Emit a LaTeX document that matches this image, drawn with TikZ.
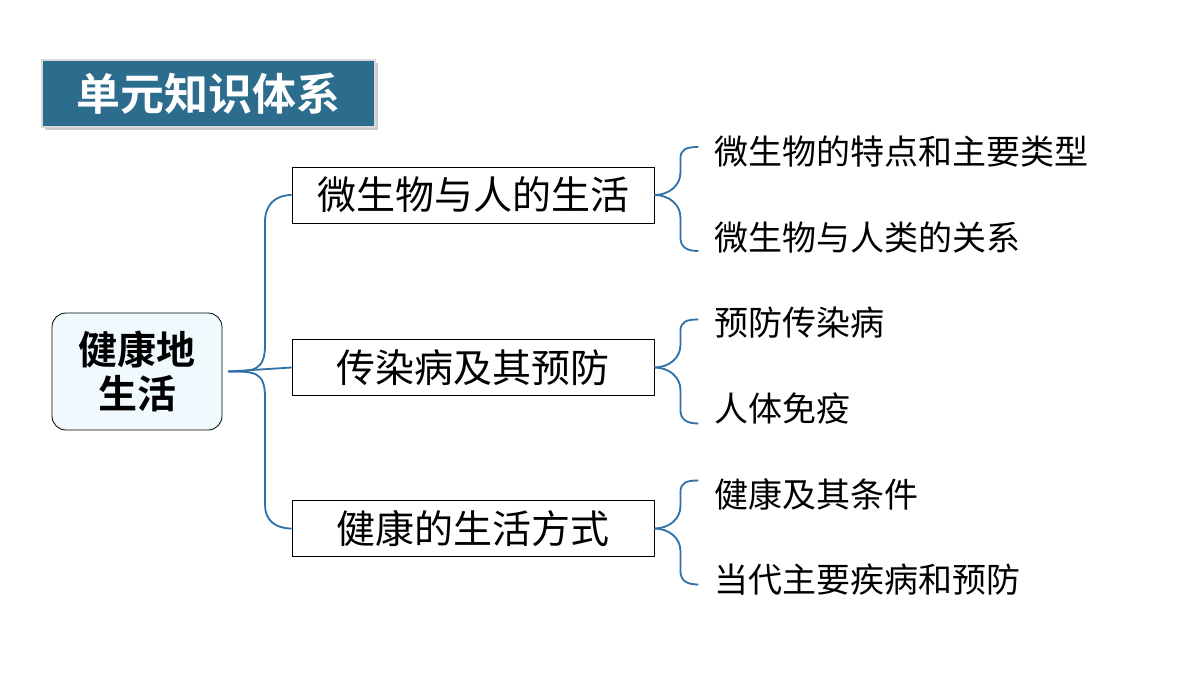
\documentclass[tikz,border=0pt]{standalone}
\usepackage{fontspec}
\usetikzlibrary{calc}
\newfontfamily\cjk{Noto Sans CJK SC}
\newfontfamily\cjkb{Noto Sans CJK SC Bold}
\definecolor{titlebg}{HTML}{2C6C8C}
\definecolor{br}{HTML}{2F70A8}
\begin{document}
\begin{tikzpicture}[x=1pt,y=-1pt,
  branch/.style={draw=black,line width=0.8pt,minimum width=362pt,minimum height=56pt,font=\cjk\fontsize{39}{42}\selectfont,inner sep=0pt},
  leaf/.style={anchor=west,font=\cjk\fontsize{34}{38}\selectfont,inner sep=0pt},
  brc/.style={draw=br,line width=1.8pt}]
\useasboundingbox (0,0) rectangle (1200,675);
\fill[white] (0,0) rectangle (1200,675);
\fill[gray!40] (45,63) rectangle (378,130);
\node[fill=titlebg,draw=gray!30,line width=2pt,minimum width=333pt,minimum height=67pt,text=white,font=\cjkb\fontsize{44}{48}\selectfont,inner sep=0pt] (title) at (208.5,93.5) {单元知识体系};
\node[draw=black,rounded corners=14pt,fill=cyan!6,line width=0.8pt,minimum width=170pt,minimum height=117pt,align=center,font=\cjkb\fontsize{39}{44}\selectfont,inner sep=0pt] (root) at (137,371.5) {健康地\\生活};
\node[branch] (b1) at (473,195) {微生物与人的生活};
\node[branch] (b2) at (473,367.5) {传染病及其预防};
\node[branch] (b3) at (473,528.5) {健康的生活方式};
\node[leaf] (l1) at (714,152) {微生物的特点和主要类型};
\node[leaf] (l2) at (714,238) {微生物与人类的关系};
\node[leaf] (l3) at (714,323) {预防传染病};
\node[leaf] (l4) at (714,409) {人体免疫};
\node[leaf] (l5) at (714,494) {健康及其条件};
\node[leaf] (l6) at (714,580) {当代主要疾病和预防};
% root brace
\draw[brc] (root.east) ++(6,0) coordinate (r0) .. controls +(25,0) and (265,371) .. (265,345) -- (265,222) .. controls (265,205) and (275,195) .. (b1.west);
\draw[brc] (r0) .. controls +(25,0) and (265,371) .. (265,397) -- (265,505) .. controls (265,520) and (275,528.5) .. (b3.west);
\draw[brc] (r0) -- (b2.west);
% right braces
\foreach \b/\u/\d in {b1/l1/l2,b2/l3/l4,b3/l5/l6}{
  \draw[brc] (\b.east) .. controls +(15,0) and ($(\b.east)+(26,-10)$) .. ($(\b.east)+(26,-22)$) -- ($(\b.east)+(26,-36)$) .. controls ($(\b.east)+(26,-46)$) and ($(\b.east)+(32,-48)$) .. ($(\b.east)+(44,-48)$);
  \draw[brc] (\b.east) .. controls +(15,0) and ($(\b.east)+(26,10)$) .. ($(\b.east)+(26,22)$) -- ($(\b.east)+(26,42)$) .. controls ($(\b.east)+(26,52)$) and ($(\b.east)+(32,56)$) .. ($(\b.east)+(44,56)$);
}
\end{tikzpicture}
\end{document}
